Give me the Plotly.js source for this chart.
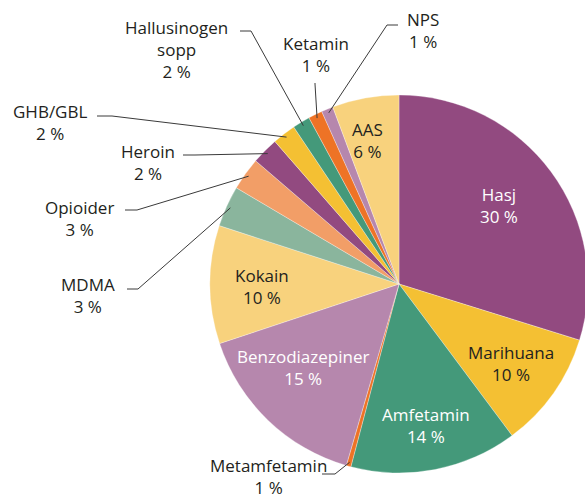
<!DOCTYPE html>
<html>
<head>
<meta charset="utf-8">
<script src="https://cdn.plot.ly/plotly-3.0.1.min.js"></script>
<style>
html,body{margin:0;padding:0;overflow:hidden;background:#fff;}
#chart{width:592px;height:499px;}
</style>
</head>
<body>
<div id="chart"></div>
<script>
// Data (clockwise from 12 o'clock)
const labels = ["Hasj","Marihuana","Amfetamin","Metamfetamin","Benzodiazepiner","Kokain","MDMA","Opioider","Heroin","GHB/GBL","Hallusinogen sopp","Ketamin","NPS","AAS"];
const values = [29.8,10.0,14.3,0.4,15.4,10.1,3.5,2.8,2.3,2.0,1.5,1.2,1.0,5.7];
const pctLabels = ["30 %","10 %","14 %","1 %","15 %","10 %","3 %","3 %","2 %","2 %","2 %","1 %","1 %","6 %"];
const colors = ["#924a80","#f4c033","#44997a","#ee7326","#b687ad","#f8d27d","#8ab59d","#f29e67","#924a80","#f4c033","#44997a","#ee7326","#b687ad","#f8d27d"];

const W = 592, H = 499;
const cx = 399, cy = 284, R = 189;
const px = x => x / W;
const py = y => 1 - y / H;
const FONT = "Open Sans, sans-serif";
const DARK = "#231f20";

const trace = {
  type: "pie",
  labels: labels,
  values: values,
  textinfo: "none",
  sort: false,
  direction: "clockwise",
  rotation: 0,
  hoverinfo: "none",
  marker: {colors: colors, line: {color: "rgba(255,255,255,0.6)", width: 0.5}},
  domain: {x: [px(cx - R), px(cx + R)], y: [py(cy + R), py(cy - R)]},
  showlegend: false
};

// Mid-angle of each slice (clockwise from top), derived from data
const total = values.reduce((a, b) => a + b, 0);
const mid = {};
let acc = 0;
values.forEach((v, i) => { mid[labels[i]] = (acc + v / 2) / total * 2 * Math.PI; acc += v; });
function edge(name, rr) {
  const a = mid[name];
  return [cx + rr * Math.sin(a), cy - rr * Math.cos(a)];
}

// Inside labels (position of text centre)
const inside = [
  {i: 0, tx: 499, ty: 206, color: "#ffffff"},
  {i: 1, tx: 511, ty: 363, color: DARK},
  {i: 2, tx: 426, ty: 425, color: "#ffffff"},
  {i: 4, tx: 303, ty: 367, color: "#ffffff"},
  {i: 5, tx: 262, ty: 286, color: DARK},
  {i: 13, tx: 367, ty: 140, color: DARK}
];

// Outside labels: text position, elbow start/end of leader
const outside = [
  {i: 10, txt: "Hallusinogen<br>sopp<br>" + pctLabels[10], tx: 176, ty: 50, p1: [240, 31], p2: [251, 31]},
  {i: 11, txt: labels[11] + "<br>" + pctLabels[11], tx: 316, ty: 54, p1: [315, 83], p2: [315, 84]},
  {i: 12, txt: labels[12] + "<br>" + pctLabels[12], tx: 423, ty: 31, p1: [398, 25], p2: [387, 25]},
  {i: 9, txt: labels[9] + "<br>" + pctLabels[9], tx: 50, ty: 122, p1: [97, 116], p2: [112, 116]},
  {i: 8, txt: labels[8] + "<br>" + pctLabels[8], tx: 148, ty: 162, p1: [183, 155], p2: [195, 155]},
  {i: 7, txt: labels[7] + "<br>" + pctLabels[7], tx: 79, ty: 218, p1: [125, 210], p2: [137, 210]},
  {i: 6, txt: labels[6] + "<br>" + pctLabels[6], tx: 88, ty: 295, p1: [127, 289], p2: [138, 289]},
  {i: 3, txt: labels[3] + "<br>" + pctLabels[3], tx: 268, ty: 476, p1: [322, 474], p2: [335, 474]}
];

const annotations = inside.map(o => ({
  xref: "paper", yref: "paper", x: px(o.tx), y: py(o.ty),
  xanchor: "center", yanchor: "middle", showarrow: false,
  text: labels[o.i] + "<br>" + pctLabels[o.i], align: "center",
  font: {family: FONT, size: 17, color: o.color}
})).concat(outside.map(o => ({
  xref: "paper", yref: "paper", x: px(o.tx), y: py(o.ty),
  xanchor: "center", yanchor: "middle", showarrow: false,
  text: o.txt, align: "center",
  font: {family: FONT, size: 17, color: DARK}
})));

const shapes = outside.map(o => {
  const e = edge(labels[o.i], R - 4);
  return {
    type: "path", xref: "paper", yref: "paper",
    path: `M ${px(o.p1[0])} ${py(o.p1[1])} L ${px(o.p2[0])} ${py(o.p2[1])} L ${px(e[0])} ${py(e[1])}`,
    line: {color: "#3a3a3a", width: 1}
  };
});

const layout = {
  width: W, height: H,
  margin: {l: 0, r: 0, t: 0, b: 0},
  paper_bgcolor: "#ffffff",
  annotations: annotations,
  shapes: shapes,
  font: {family: FONT}
};

Plotly.newPlot("chart", [trace], layout, {displayModeBar: false, staticPlot: true});
</script>
</body>
</html>
